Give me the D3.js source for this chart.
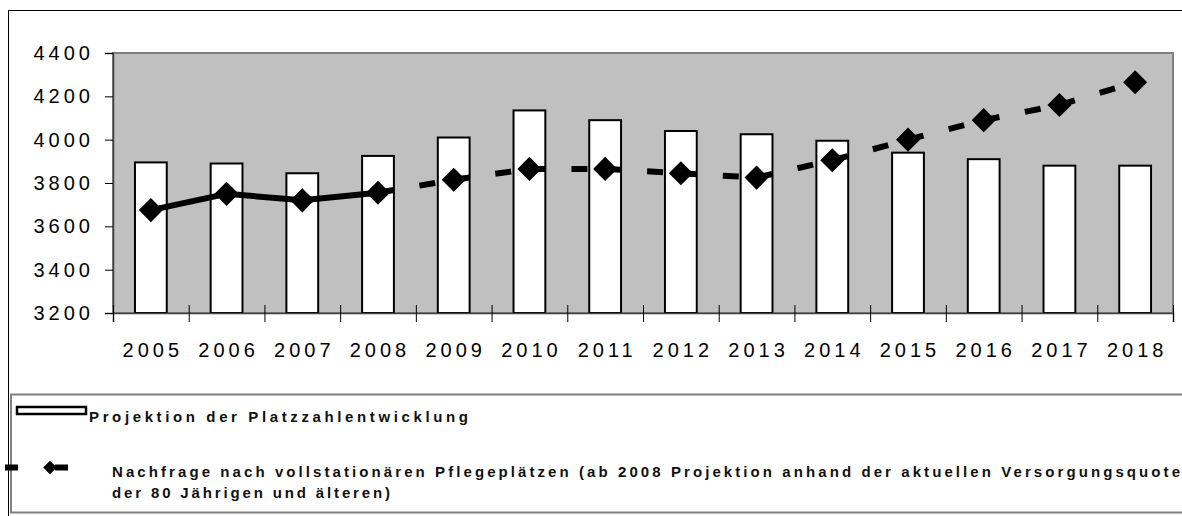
<!DOCTYPE html>
<html>
<head>
<meta charset="utf-8">
<title>Platzzahlentwicklung und Nachfrage</title>
<script src="https://d3js.org/d3.v7.min.js"></script>
<style>
  body { margin: 0; background: #fff; }
  svg { display: block; font-family: Arial, "Liberation Sans", sans-serif; }
</style>
</head>
<body>
<svg id="chart"></svg>
<script>
// chart values
var years = ["2005", "2006", "2007", "2008", "2009", "2010", "2011",
             "2012", "2013", "2014", "2015", "2016", "2017", "2018"];
var places = [3895, 3890, 3845, 3925, 4010, 4135, 4090, 4040, 4025, 3995, 3940, 3910, 3880, 3880];
var demand = [3675, 3750, 3720, 3755, 3815, 3865, 3865, 3845, 3825, 3905, 4000, 4090, 4160, 4265];
var yTicks = [3200, 3400, 3600, 3800, 4000, 4200, 4400];
var lastSolid = "2008"; // from here on the demand line is a projection (dashed)
var legendBar = "Projektion der Platzzahlentwicklung";
var legendLine = ["Nachfrage nach vollstationären Pflegeplätzen (ab 2008 Projektion anhand der aktuellen Versorgungsquote",
                  "der 80 Jährigen und älteren)"];

var W = 1182, H = 516;
var plot = { left: 113, right: 1173, top: 53, bottom: 313 };

var svg = d3.select("#chart").attr("width", W).attr("height", H);

// outer frame (right and bottom edges run off the picture)
svg.append("rect")
  .attr("x", 8.5).attr("y", 10.5)
  .attr("width", 1200).attr("height", 600)
  .style("fill", "none").style("stroke", "#000").style("stroke-width", 1);

var x = d3.scaleBand()
  .domain(years)
  .range([plot.left, plot.right])
  .paddingInner(0.58)
  .paddingOuter(0.29);

var xEdge = d3.scaleLinear()
  .domain([0, years.length])
  .range([plot.left, plot.right]);

var y = d3.scaleLinear()
  .domain([3200, 4400])
  .range([plot.bottom, plot.top]);

// plot area
svg.append("rect")
  .attr("x", plot.left).attr("y", plot.top)
  .attr("width", plot.right - plot.left).attr("height", plot.bottom - plot.top)
  .style("fill", "#c0c0c0").style("stroke", "#808080").style("stroke-width", 2);

// bars
svg.selectAll(".bar")
  .data(years)
  .enter().append("rect")
  .attr("class", "bar")
  .attr("x", function(d) { return x(d); })
  .attr("y", function(d, i) { return y(places[i]); })
  .attr("width", x.bandwidth())
  .attr("height", function(d, i) { return y(3200) - y(places[i]); })
  .style("fill", "#fff").style("stroke", "#000").style("stroke-width", 2);

// axes
var yAxis = svg.append("g")
  .attr("transform", "translate(" + plot.left + ",0)")
  .call(d3.axisLeft(y).tickValues(yTicks).tickSize(8).tickPadding(11).tickFormat(d3.format("d")));

var xAxis = svg.append("g")
  .attr("transform", "translate(0," + plot.bottom + ")")
  .call(d3.axisBottom(xEdge).tickValues(d3.range(years.length + 1)).tickSize(9).tickFormat(""));
xAxis.selectAll(".tick line").attr("y1", -8);

var xLabels = svg.append("g")
  .attr("transform", "translate(0," + plot.bottom + ")")
  .call(d3.axisBottom(x).tickSize(0).tickPadding(30));
xLabels.select(".domain").remove();

svg.selectAll(".domain").style("stroke", "#404040").style("stroke-width", 1.5);
svg.selectAll(".tick line").style("stroke", "#000").style("stroke-width", 1);
svg.selectAll(".tick text")
  .style("font-size", "20px")
  .style("letter-spacing", "4px")
  .style("fill", "#000");
xLabels.selectAll(".tick text").attr("dx", "2px");

// demand line
var cx = function(d) { return x(d) + x.bandwidth() / 2; };
var pts = years.map(function(d, i) { return [cx(d), y(demand[i])]; });
var cut = years.indexOf(lastSolid);

svg.append("path")
  .attr("d", d3.line()(pts.slice(0, cut + 1)))
  .style("fill", "none").style("stroke", "#000")
  .style("stroke-width", 6).style("stroke-linejoin", "round");

// each projected segment restarts its dash pattern
var segs = d3.range(cut, years.length - 1).map(function(i) { return [pts[i], pts[i + 1]]; });
svg.selectAll(".seg")
  .data(segs)
  .enter().append("path")
  .attr("class", "seg")
  .attr("d", function(s) { return d3.line()(s); })
  .style("fill", "none").style("stroke", "#000")
  .style("stroke-width", 6).style("stroke-dasharray", "16,26");

var diamond = d3.symbol().type(d3.symbolDiamond2);
svg.selectAll(".mark")
  .data(pts)
  .enter().append("path")
  .attr("class", "mark")
  .attr("transform", function(p) { return "translate(" + p[0] + "," + p[1] + ")"; })
  .attr("d", diamond.size(370))
  .style("fill", "#000");

// legend
svg.append("rect")
  .attr("x", 11).attr("y", 394.5)
  .attr("width", 1200).attr("height", 118)
  .style("fill", "#fff").style("stroke", "#808080").style("stroke-width", 2);

svg.append("rect")
  .attr("x", 17).attr("y", 407)
  .attr("width", 69).attr("height", 7)
  .style("fill", "#fff").style("stroke", "#000").style("stroke-width", 2.5);

svg.append("line")
  .attr("x1", 5).attr("x2", 68).attr("y1", 467.5).attr("y2", 467.5)
  .style("stroke", "#000").style("stroke-width", 6).style("stroke-dasharray", "13,37,13");
svg.append("path")
  .attr("transform", "translate(50,467.5)")
  .attr("d", d3.symbol().type(d3.symbolDiamond2).size(120)())
  .style("fill", "#000");

function legendText(str, tx, ty, width) {
  svg.append("text")
    .attr("x", tx).attr("y", ty)
    .attr("textLength", width).attr("lengthAdjust", "spacing")
    .style("font-size", "15px").style("font-weight", "bold")
    .style("fill", "#111")
    .text(str);
}
legendText(legendBar, 89, 422, 379);
legendText(legendLine[0], 112, 477, 1068);
legendText(legendLine[1], 112, 498, 278);
</script>
</body>
</html>
